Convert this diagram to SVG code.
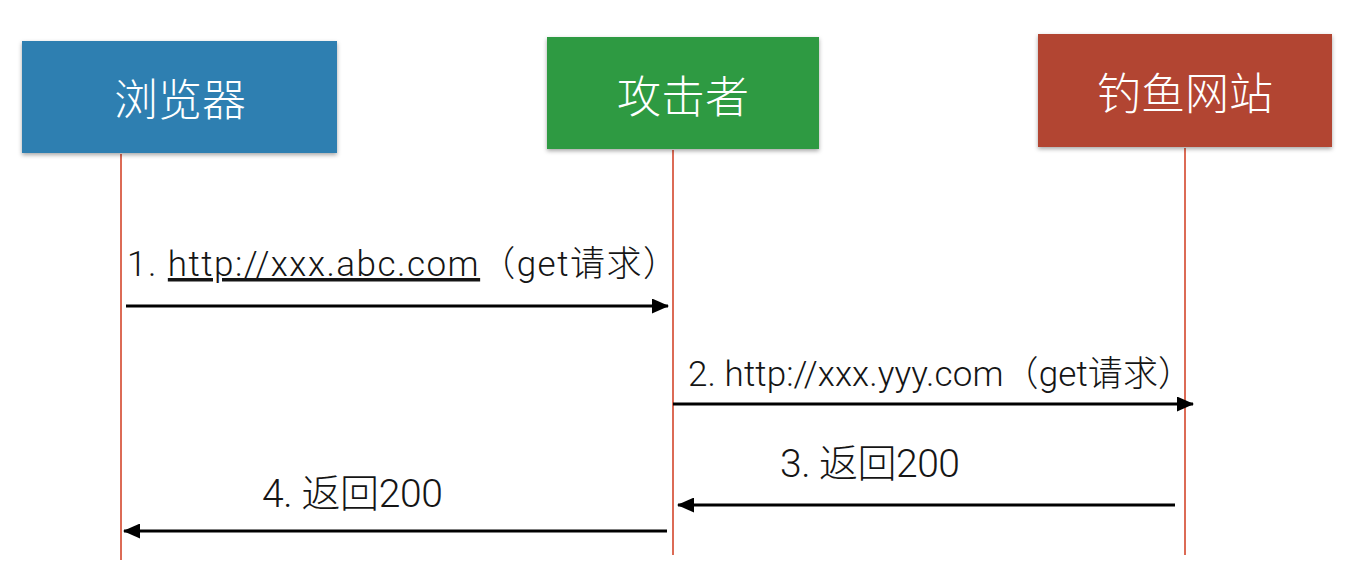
<svg xmlns="http://www.w3.org/2000/svg" width="1354" height="580" viewBox="0 0 1354 580">
<defs>
<filter id="sh" x="-5%" y="-10%" width="110%" height="125%">
<feDropShadow dx="0" dy="2" stdDeviation="2" flood-color="#000" flood-opacity="0.35"/>
</filter>
<marker id="ah" viewBox="0 0 17 15" refX="16" refY="7.5" markerWidth="17" markerHeight="15" markerUnits="userSpaceOnUse" orient="auto">
<path d="M0,0 L17,7.5 L0,15 Z" fill="#000"/>
</marker>
<style>
.box text{font-family:"Noto Sans CJK SC","Noto Sans",sans-serif;font-weight:300;font-size:44px;fill:#fff;text-anchor:middle;dominant-baseline:central}
.life{stroke:#d03a1e;stroke-width:1.5;fill:none}
.msg{stroke:#000;stroke-width:3;fill:none;marker-end:url(#ah)}
.lbl{font-family:Roboto,"Noto Sans CJK SC",sans-serif;font-weight:300;font-size:35px;fill:#151515}
.big{font-size:39px}
</style>
</defs>
<g id="lifelines">
<line class="life" x1="121" y1="154" x2="121" y2="560"/>
<line class="life" x1="673" y1="150" x2="673" y2="555"/>
<line class="life" x1="1185" y1="148" x2="1185" y2="555"/>
</g>
<g id="browser" class="box">
<rect x="22" y="41" width="315" height="112" fill="#2f7fb1" filter="url(#sh)"/>
<text x="180" y="97">浏览器</text>
</g>
<g id="attacker" class="box">
<rect x="547" y="37" width="272" height="112" fill="#2e9a42" filter="url(#sh)"/>
<text x="683" y="94">攻击者</text>
</g>
<g id="phishing" class="box">
<rect x="1038" y="34" width="294" height="113" fill="#b24431" filter="url(#sh)"/>
<text x="1185" y="91">钓鱼网站</text>
</g>
<g id="connectors">
<line class="msg" x1="126" y1="306" x2="668" y2="306"/>
<line class="msg" x1="673" y1="404" x2="1193" y2="404"/>
<line class="msg" x1="1175" y1="505" x2="678" y2="505"/>
<line class="msg" x1="667" y1="531" x2="124" y2="531"/>
</g>
<g id="labels">
<text class="lbl" x="127" y="276" letter-spacing="1.5">1. <tspan text-decoration="underline">http://xxx.abc.com</tspan>（get请求）</text>
<text class="lbl" x="688" y="386" textLength="505" lengthAdjust="spacing">2. http://xxx.yyy.com（get请求）</text>
<text class="lbl big" x="780" y="477" textLength="180" lengthAdjust="spacing">3. 返回200</text>
<text class="lbl big" x="262" y="507" textLength="181" lengthAdjust="spacing">4. 返回200</text>
</g>
</svg>
